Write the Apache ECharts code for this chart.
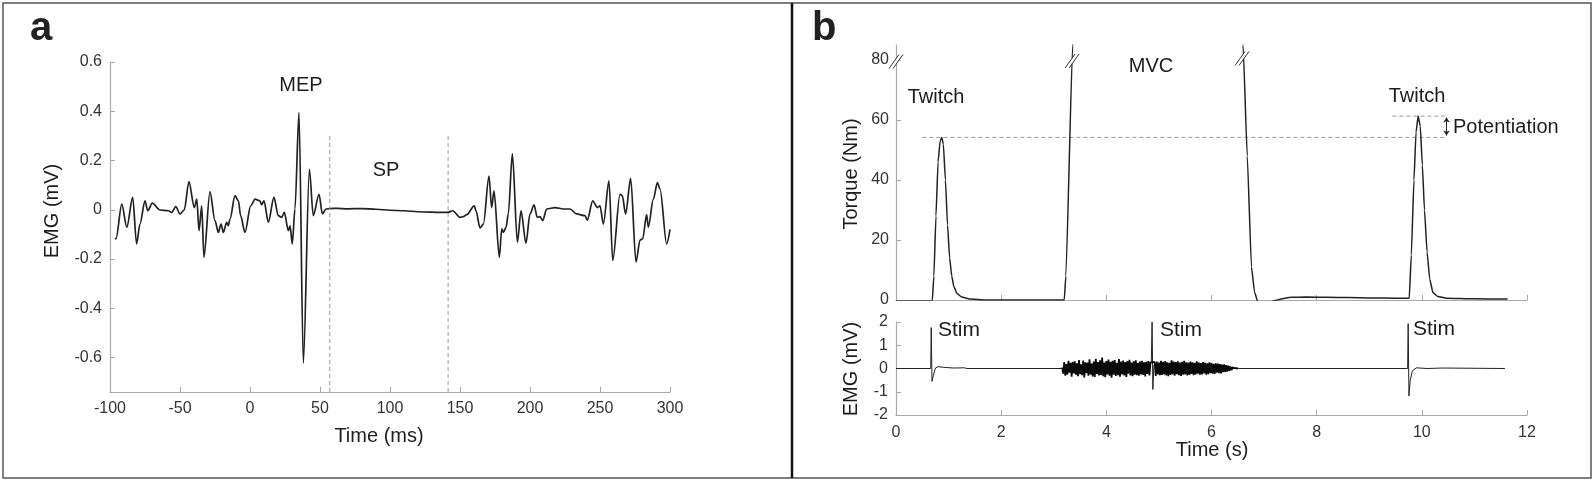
<!DOCTYPE html>
<html>
<head>
<meta charset="utf-8">
<title>MEP and twitch potentiation</title>
<script src="https://cdn.jsdelivr.net/npm/echarts@6/dist/echarts.min.js"></script>
<style>
  html, body { margin: 0; padding: 0; background: #fff; }
  #chart { width: 1594px; height: 481px; }
</style>
</head>
<body>
<div id="chart"></div>
<script>
// ---- panel a: single MEP trace, [time ms, EMG mV]
const mepTrace = [
  [-96.4, -0.115], [-95.7, -0.118], [-91.6, 0.023], [-88, -0.071], [-83.8, 0.05], [-81, -0.139],
  [-78.6, -0.058], [-75, 0.036], [-73, -0.004], [-69.8, 0.027], [-64.3, -0.001], [-58.3, -0.004],
  [-56, -0.011], [-53, 0.013], [-50, -0.017], [-47, -0.001], [-43.6, 0.114], [-39.8, 0.009],
  [-38, 0.043], [-36.4, -0.085], [-34.5, 0.016], [-32.9, -0.193], [-28.6, 0.074], [-25, -0.044],
  [-22.6, -0.092], [-20.7, -0.058], [-19, -0.092], [-16.7, -0.051], [-15.5, -0.065], [-14.3, -0.038],
  [-10.7, 0.057], [-8.3, 0.036], [-6.7, -0.024], [-3.6, -0.092], [0.5, 0.016], [3.6, 0.043],
  [7.1, 0.036], [8.3, 0.02], [10, 0.036], [13.1, -0.051], [17.1, 0.05], [20.2, -0.024],
  [22.6, -0.031], [24.5, -0.011], [27.4, -0.085], [28.6, -0.065], [30.2, -0.139], [32.1, 0.003],
  [35, 0.395], [38.1, -0.623], [42.4, 0.164], [45.2, -0.024], [49.3, 0.063], [51.7, -0.017],
  [54.3, 0.003], [57.1, 0.005], [62, 0.006], [70, 0.004], [80, 0.005], [90, 0.002],
  [100, -0.002], [110, -0.004], [120, -0.008], [130, -0.01], [135.7, -0.011], [141, -0.011],
  [144.8, -0.004], [150, -0.031], [152.4, -0.028], [154.8, -0.02], [160.2, 0.016], [161.4, -0.004],
  [164.3, -0.074], [166.7, -0.058], [170.7, 0.137], [172.6, 0.009], [174.3, 0.077], [178.1, -0.193],
  [179.8, -0.078], [181, -0.092], [182.9, -0.071], [184.5, -0.017], [187.4, 0.228], [191, -0.132],
  [193.6, -0.004], [197.1, -0.136], [200, -0.017], [202.9, 0.02], [205.2, -0.031], [207.1, -0.028],
  [209.1, -0.044], [211.9, 0.003], [217.9, 0.009], [223.8, 0.003], [228.6, 0.003], [233.3, -0.017],
  [239.3, -0.024], [240.9, -0.042], [244.8, 0.036], [248.1, 0.009], [250, 0.016], [252.4, -0.058],
  [256.4, 0.117], [259.1, -0.206], [264.3, 0.063], [265.9, 0.057], [268.3, -0.017], [271.9, 0.128],
  [275.7, -0.213], [278.6, -0.123], [280.5, -0.118], [283.3, -0.02], [284.5, -0.071], [288.1, 0.043],
  [291, 0.11], [292.9, 0.084], [297.6, -0.139], [300, -0.08]
];
const silentPeriodEdges = [57, 141.5];
const silentPeriodTop = 0.31;
const mepVoltTicks = [-0.6, -0.4, -0.2, 0, 0.2, 0.4, 0.6];

// ---- panel b, top: torque [time s, Nm]
const torqueTrace = [
  [0, -0.3], [0.69, -0.3], [0.72, 8], [0.76, 28], [0.8, 46], [0.84, 53], [0.87, 54.2], [0.9, 52],
  [0.94, 40], [0.98, 25], [1.02, 14], [1.06, 8], [1.1, 4.5], [1.16, 2.2], [1.25, 1], [1.4, 0.3],
  [1.7, 0], [2.5, 0], [3.2, 0], [3.23, 8], [3.36, 85], [3.38, 100],
  [6.58, 100], [6.6, 85], [6.68, 48], [6.76, 11], [6.82, 2.5], [6.88, -0.5], [6.96, -1.3],
  [7.08, -0.9], [7.2, -0.2], [7.35, 0.4], [7.5, 0.9], [7.8, 1], [8.2, 0.9], [8.6, 0.8], [9, 0.7],
  [9.5, 0.6], [9.76, 0.6], [9.8, 15], [9.85, 40], [9.89, 56], [9.93, 61.3], [9.97, 58],
  [10.01, 45], [10.05, 30], [10.1, 16], [10.15, 7], [10.21, 2.5], [10.3, 1.2], [10.47, 0.6],
  [11, 0.4], [11.63, 0.3]
];
const torqueTicks = [0, 20, 40, 60, 80];
const twitchBaseline = [[0.5, 54.2], [10.44, 54.2]];
const twitchPotentiated = [[9.44, 61.3], [10.44, 61.3]];
const potentiationArrow = [[10.47, 54.8], [10.47, 60.8]];
const axisBreaks = [[0, 79.5], [3.35, 79.7], [6.58, 80.5]];

// ---- panel b, bottom: EMG [time s, mV]
const emgBefore = [
  [0, 0], [0.66, 0], [0.67, 1.76], [0.685, -0.55], [0.71, -0.3], [0.75, 0.02], [0.8, 0.08],
  [0.9, 0.05], [1.1, 0.02], [1.3, 0.03], [1.35, 0], [3.15, 0]
];
const burstStart = 3.16;
const burstStep = 0.02;
const burstValues = [
  0.05, -0.22, 0.28, -0.31, 0.19, -0.26, 0.33, -0.18, 0.24, -0.35, 0.29, -0.21,
  0.31, -0.27, 0.22, -0.33, 0.36, -0.24, 0.18, -0.29, 0.34, -0.38, 0.27, -0.2,
  0.25, -0.31, 0.39, -0.26, 0.21, -0.34, 0.3, -0.36, 0.42, -0.23, 0.28, -0.3,
  0.35, -0.28, 0.47, -0.33, 0.26, -0.37, 0.32, -0.25, 0.38, -0.31, 0.29, -0.4,
  0.33, -0.27, 0.36, -0.32, 0.24, -0.29, 0.41, -0.35, 0.3, -0.26, 0.34, -0.3,
  0.28, -0.36, 0.32, -0.22, 0.37, -0.3, 0.26, -0.33, 0.31, -0.27, 0.35, -0.29,
  0.24, -0.31, 0.3, -0.25, 0.33, -0.28, 0.27, -0.34, 0.29, -0.23, 0.32, -0.3,
  0.26, -0.27, 0.31, -0.24, 0.28, -0.32, 0.3, -0.26, 0.25, -0.29, 0.33, -0.28,
  0.29, -0.25, 0.32, -0.3, 0.27, -0.33, 0.24, -0.28, 0.35, -0.26, 0.3, -0.31,
  0.28, -0.24, 0.31, -0.29, 0.26, -0.32, 0.29, -0.27, 0.33, -0.25, 0.27, -0.3,
  0.25, -0.28, 0.3, -0.23, 0.27, -0.29, 0.24, -0.26, 0.31, -0.22, 0.26, -0.27,
  0.23, -0.25, 0.28, -0.21, 0.24, -0.26, 0.22, -0.24, 0.27, -0.2, 0.23, -0.22,
  0.2, -0.23, 0.22, -0.18, 0.21, -0.2, 0.19, -0.21, 0.17, -0.16, 0.18, -0.15,
  0.14, -0.13, 0.12, -0.1, 0.09, -0.07, 0.05, -0.03, 0.02, 0, 0.01, 0
];
const stimDuringMvc = [[4.855, 0.25], [4.87, 2.0], [4.885, -0.9], [4.905, 0.15]];
const emgAfter = [
  [6.52, 0], [9.73, 0], [9.74, 1.93], [9.755, -1.18], [9.78, -0.5], [9.82, -0.1], [9.9, 0.03],
  [10.1, 0], [10.4, 0.02], [11.58, 0]
];
const emgTicks = [-2, -1, 0, 1, 2];

const burstTrace = burstValues
  .map((v, i) => [burstStart + i * burstStep, v])
  .filter(([t]) => t < 4.85 || t > 4.91);
const emgTrace = emgBefore.concat(stimDuringMvc, emgAfter).sort((p, q) => p[0] - q[0]);

const FONT = '"Liberation Sans", Arial, sans-serif';
const AXIS_GREY = "#a9a9a9";
const INK = "#1c1c1c";

function valueAxis(extra) {
  return Object.assign({
    type: "value",
    axisLine: { show: true, onZero: false, lineStyle: { color: AXIS_GREY, width: 1.2 } },
    axisTick: { show: true, inside: true, length: 5, lineStyle: { color: AXIS_GREY } },
    axisLabel: { color: "#333", fontSize: 16, fontFamily: FONT, margin: 9 },
    splitLine: { show: false },
  }, extra);
}

function text(str, x, y, size, opts) {
  const o = opts || {};
  return {
    type: "text",
    x, y,
    rotation: o.rotation || 0,
    silent: true,
    style: {
      text: str,
      font: `${o.weight || "normal"} ${size}px ${FONT}`,
      fill: o.color || INK,
      align: o.align || "center",
      verticalAlign: "middle",
      textAlign: o.align || "center",
      textVerticalAlign: "middle",
    },
  };
}

const chart = echarts.init(document.getElementById("chart"), null, { renderer: "canvas" });

chart.setOption({
  animation: false,
  backgroundColor: "#fff",
  grid: [
    { left: 110, top: 62, width: 560, height: 330 },
    { left: 896, top: 45, width: 631, height: 255 },
    { left: 896, top: 322, width: 631, height: 93 },
  ],
  xAxis: [
    valueAxis({ gridIndex: 0, min: -100, max: 300, interval: 50 }),
    valueAxis({ gridIndex: 1, min: 0, max: 12, interval: 2, axisLabel: { show: false } }),
    valueAxis({ gridIndex: 2, min: 0, max: 12, interval: 2,
      axisLabel: { color: "#333", fontSize: 16, fontFamily: FONT, margin: 10 } }),
  ],
  yAxis: [
    valueAxis({ gridIndex: 0, min: -0.74, max: 0.6,
      axisLabel: { color: "#333", fontSize: 16, fontFamily: FONT, margin: 8, customValues: mepVoltTicks },
      axisTick: { show: true, inside: true, length: 5, lineStyle: { color: AXIS_GREY }, customValues: mepVoltTicks } }),
    valueAxis({ gridIndex: 1, min: 0, max: 85,
      axisLabel: { color: "#333", fontSize: 16, fontFamily: FONT, margin: 7, customValues: torqueTicks },
      axisTick: { show: true, inside: true, length: 5, lineStyle: { color: AXIS_GREY }, customValues: torqueTicks } }),
    valueAxis({ gridIndex: 2, min: -2, max: 2,
      axisLabel: { color: "#333", fontSize: 16, fontFamily: FONT, margin: 8, customValues: emgTicks },
      axisTick: { show: true, inside: true, length: 5, lineStyle: { color: AXIS_GREY }, customValues: emgTicks } }),
  ],
  series: [
    {
      type: "line", xAxisIndex: 0, yAxisIndex: 0, data: mepTrace,
      showSymbol: false, smooth: 0.3, smoothMonotone: "x",
      lineStyle: { color: "#222", width: 1.7 },
    },
    ...silentPeriodEdges.map((t) => ({
      type: "line", xAxisIndex: 0, yAxisIndex: 0,
      data: [[t, -0.74], [t, silentPeriodTop]],
      showSymbol: false, lineStyle: { color: "#9a9a9a", width: 1, type: [4, 3] },
    })),
    {
      type: "line", xAxisIndex: 1, yAxisIndex: 1, data: twitchBaseline,
      showSymbol: false, lineStyle: { color: "#9a9a9a", width: 1, type: [4, 3] },
    },
    {
      type: "line", xAxisIndex: 1, yAxisIndex: 1, data: twitchPotentiated,
      showSymbol: false, lineStyle: { color: "#9a9a9a", width: 1, type: [4, 3] },
    },
    {
      type: "line", xAxisIndex: 1, yAxisIndex: 1, data: torqueTrace, clip: true,
      showSymbol: false, smooth: 0.15, smoothMonotone: "x",
      lineStyle: { color: "#222", width: 1.5 },
    },
    {
      type: "lines", coordinateSystem: "cartesian2d", xAxisIndex: 1, yAxisIndex: 1,
      symbol: ["arrow", "arrow"], symbolSize: 5,
      lineStyle: { color: "#222", width: 1, opacity: 1 },
      data: [{ coords: potentiationArrow }],
    },
    {
      type: "custom", xAxisIndex: 1, yAxisIndex: 1, data: axisBreaks, z: 10,
      renderItem: (params, api) => {
        const [x, y] = api.coord([api.value(0), api.value(1)]);
        return {
          type: "group",
          children: [
            { type: "polygon", shape: { points: [[x - 7, y + 7], [x + 3, y - 7], [x + 7, y - 7], [x - 3, y + 7]] },
              style: { fill: "#fff" } },
            { type: "line", shape: { x1: x - 7, y1: y + 7, x2: x + 3, y2: y - 7 }, style: { stroke: "#333", lineWidth: 1 } },
            { type: "line", shape: { x1: x - 3, y1: y + 7, x2: x + 7, y2: y - 7 }, style: { stroke: "#333", lineWidth: 1 } },
          ],
        };
      },
    },
    {
      type: "line", xAxisIndex: 2, yAxisIndex: 2, data: emgTrace,
      showSymbol: false, lineStyle: { color: "#222", width: 1 },
    },
    {
      type: "line", xAxisIndex: 2, yAxisIndex: 2, data: burstTrace,
      showSymbol: false, lineStyle: { color: "#0a0a0a", width: 1.8 },
    },
  ],
  graphic: [
    { type: "rect", silent: true, shape: { x: 3, y: 3, width: 1588, height: 475 },
      style: { fill: "none", stroke: "#555", lineWidth: 1.5 } },
    { type: "line", silent: true, shape: { x1: 792, y1: 3, x2: 792, y2: 478 },
      style: { stroke: "#111", lineWidth: 2.5 } },
    text("a", 30, 29, 40, { weight: "bold", align: "left", color: "#222" }),
    text("b", 812, 29, 40, { weight: "bold", align: "left", color: "#222" }),
    text("MEP", 301, 85, 20),
    text("SP", 386, 170, 20),
    text("Time (ms)", 379, 436, 20),
    text("EMG (mV)", 52, 211, 20, { rotation: Math.PI / 2 }),
    text("Twitch", 936, 97, 20),
    text("MVC", 1151, 66, 20),
    text("Twitch", 1417, 96, 20),
    text("Potentiation", 1453, 127, 20, { align: "left" }),
    text("Stim", 938, 330, 21, { align: "left" }),
    text("Stim", 1160, 330, 21, { align: "left" }),
    text("Stim", 1413, 329, 21, { align: "left" }),
    text("Torque (Nm)", 851, 174, 20, { rotation: Math.PI / 2 }),
    text("EMG (mV)", 851, 369, 20, { rotation: Math.PI / 2 }),
    text("Time (s)", 1212, 450, 20),
  ],
});
</script>
</body>
</html>
